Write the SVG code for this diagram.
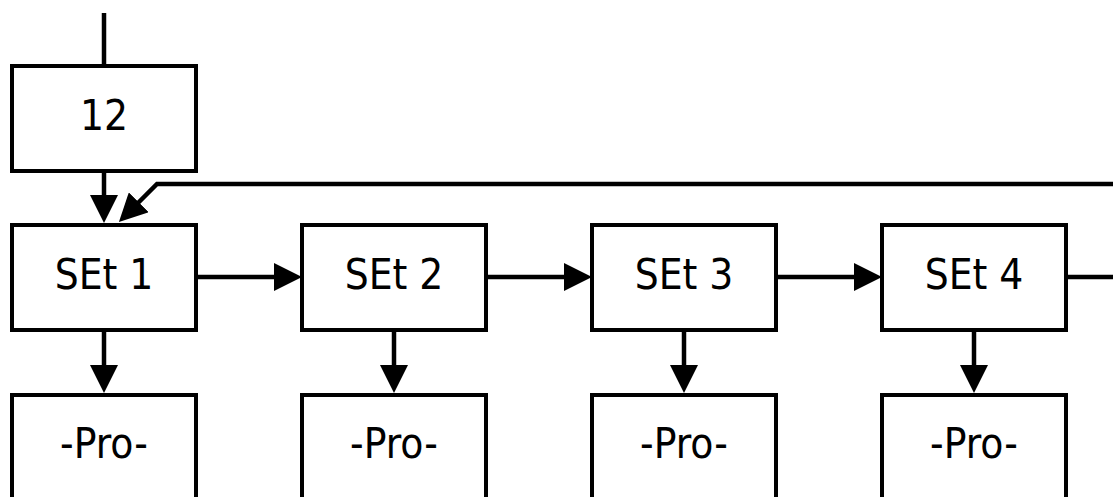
<svg xmlns="http://www.w3.org/2000/svg" width="1113" height="497" viewBox="0 0 1113 497">
<style>
.box{fill:#fff;stroke:#000;stroke-width:4}
.lbl{font-family:"DejaVu Sans Condensed","DejaVu Sans",sans-serif;font-stretch:condensed;font-size:42px;fill:#000;text-anchor:middle}
.ln{fill:none;stroke:#000;stroke-width:4.5}
</style>
<defs>
<marker id="ah" viewBox="0 0 28 28" refX="18" refY="14" markerWidth="28" markerHeight="28" markerUnits="userSpaceOnUse" orient="auto">
<path d="M0,0 L28,14 L0,28 Z" fill="#000"/>
</marker>
</defs>
<g id="connectors">
<line class="ln" x1="104" y1="13" x2="104" y2="66"/>
<line class="ln" x1="104" y1="171" x2="104" y2="213" marker-end="url(#ah)"/>
<polyline class="ln" points="1113,184 157,184 126,215" marker-end="url(#ah)"/>
<line class="ln" x1="196" y1="277" x2="292" y2="277" marker-end="url(#ah)"/>
<line class="ln" x1="486" y1="277" x2="582" y2="277" marker-end="url(#ah)"/>
<line class="ln" x1="776" y1="277" x2="872" y2="277" marker-end="url(#ah)"/>
<line class="ln" x1="1066" y1="277" x2="1113" y2="277"/>
<line class="ln" x1="104" y1="330" x2="104" y2="383" marker-end="url(#ah)"/>
<line class="ln" x1="394" y1="330" x2="394" y2="383" marker-end="url(#ah)"/>
<line class="ln" x1="684" y1="330" x2="684" y2="383" marker-end="url(#ah)"/>
<line class="ln" x1="974" y1="330" x2="974" y2="383" marker-end="url(#ah)"/>
</g>
<g id="n12"><rect class="box" x="12" y="66" width="184" height="105"/><text class="lbl" x="104" y="130">12</text></g>
<g id="set1"><rect class="box" x="12" y="225" width="184" height="105"/><text class="lbl" x="104" y="289">SEt 1</text></g>
<g id="set2"><rect class="box" x="302" y="225" width="184" height="105"/><text class="lbl" x="394" y="289">SEt 2</text></g>
<g id="set3"><rect class="box" x="592" y="225" width="184" height="105"/><text class="lbl" x="684" y="289">SEt 3</text></g>
<g id="set4"><rect class="box" x="882" y="225" width="184" height="105"/><text class="lbl" x="974" y="289">SEt 4</text></g>
<g id="pro1"><rect class="box" x="12" y="395" width="184" height="120"/><text class="lbl" x="104" y="458">-Pro-</text></g>
<g id="pro2"><rect class="box" x="302" y="395" width="184" height="120"/><text class="lbl" x="394" y="458">-Pro-</text></g>
<g id="pro3"><rect class="box" x="592" y="395" width="184" height="120"/><text class="lbl" x="684" y="458">-Pro-</text></g>
<g id="pro4"><rect class="box" x="882" y="395" width="184" height="120"/><text class="lbl" x="974" y="458">-Pro-</text></g>
</svg>
